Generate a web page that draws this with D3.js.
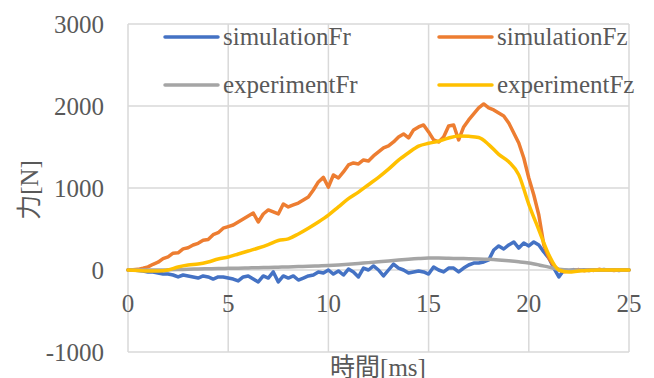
<!DOCTYPE html>
<html>
<head>
<meta charset="utf-8">
<script src="https://cdn.jsdelivr.net/npm/d3@7"></script>
<style>
  html, body { margin: 0; padding: 0; background: #fff; }
</style>
</head>
<body>
<svg id="chart" width="654" height="378"></svg>
<script>
// sampling steps (ms) of the two data sets
var simStep = 0.25,
    expStep = 0.5;

var xTicks = [0, 5, 10, 15, 20, 25];
var yTicks = [-1000, 0, 1000, 2000, 3000];

var seriesNames = ["simulationFr", "simulationFz", "experimentFr", "experimentFz"];
var seriesColors = ["#4472C4", "#ED7D31", "#A5A5A5", "#FFC000"];

// simulation, every 0.25 ms from 0 to 25
var simFr = [0, 0, -5, -12, -24, -24, -37, -49, -49, -61, -85, -61, -73, -85, -98, -73, -85, -110, -85, -85, -98,
  -110, -134, -85, -73, -110, -146, -73, -98, -24, -146, -73, -98, -73, -122, -98, -73, -61, -24, -37, 0,
  -49, -12, -61, 12, -24, -85, 24, 0, 49, 0, -73, 0, 73, 24, 0, -37, -24, -12, -24, -49,
  37, 0, -24, 24, 24, -24, 24, 61, 85, 85, 98, 122, 244, 293, 256, 305, 342, 268, 329, 293,
  342, 305, 220, 146, 24, -85, 0, -10, 5, -8, 4, -6, 3, -4, 6, -2, 3, -5, 2, 0];

var simFz = [0, 2, 8, 22, 38, 70, 95, 138, 160, 205, 210, 258, 272, 305, 325, 362, 372, 430, 455, 510, 530,
  549, 586, 622, 659, 695, 586, 683, 732, 708, 683, 805, 769, 793, 817, 854, 891, 976, 1074, 1130, 1010,
  1159, 1122, 1196, 1281, 1305, 1293, 1342, 1330, 1391, 1440, 1488, 1513, 1562, 1623, 1659, 1610, 1708, 1745, 1769, 1684,
  1586, 1562, 1623, 1757, 1769, 1586, 1745, 1830, 1903, 1976, 2025, 1976, 1952, 1915, 1879, 1793, 1671, 1549, 1366, 1122,
  915, 671, 305, 146, 49, 0, -20, -15, -5, 5, -8, 3, -5, 8, -3, 2, -6, 4, -2, 0];

// experiment, every 0.5 ms from 0 to 25
var expFr = [0, 0, 0, 0, 2, 5, 10, 12, 15, 18, 20, 22, 25, 28, 32, 35, 38, 42, 45, 50,
  55, 62, 70, 80, 90, 100, 110, 122, 132, 140, 145, 145, 143, 140, 138, 135, 130, 122, 112, 100,
  85, 62, 35, 10, 0, 0, 0, 0, 0, 0, 0];

var expFz = [0, -6, -12, -12, 0, 37, 61, 73, 98, 134, 159, 195, 232, 268, 310, 360, 380, 440, 510, 586,
  670, 770, 870, 950, 1040, 1130, 1230, 1340, 1430, 1510, 1545, 1570, 1610, 1635, 1630, 1615, 1530, 1410, 1320, 1160,
  800, 490, 185, 0, -24, -12, -5, 0, 0, 0, 0];

var FONT = "'Liberation Serif', 'Times New Roman', 'Noto Sans CJK JP', serif";

var svg = d3.select("#chart");
var plotL = 128, plotR = 629, plotT = 24, plotB = 352;

var x = d3.scaleLinear().domain([0, 25]).range([plotL, plotR]);
var y = d3.scaleLinear().domain([-1000, 3000]).range([plotB, plotT]);

function label(sel){
  return sel.style("font-family", FONT).style("font-size", "25px").style("fill", "#595959");
}

// grid
svg.append("g").selectAll("line").data(yTicks).enter().append("line")
  .attr("x1", plotL).attr("x2", plotR)
  .attr("y1", function(d){ return y(d); }).attr("y2", function(d){ return y(d); })
  .style("stroke", "#d9d9d9").style("stroke-width", 1.5);
svg.append("g").selectAll("line").data(xTicks).enter().append("line")
  .attr("x1", function(d){ return x(d); }).attr("x2", function(d){ return x(d); })
  .attr("y1", plotT).attr("y2", plotB)
  .style("stroke", "#d9d9d9").style("stroke-width", 1.5);

// tick labels
label(svg.append("g").selectAll("text").data(yTicks).enter().append("text")
  .attr("x", 104).attr("y", function(d){ return y(d); })
  .attr("dy", "0.35em").attr("text-anchor", "end")
  .text(function(d){ return d; }));
label(svg.append("g").selectAll("text").data(xTicks).enter().append("text")
  .attr("x", function(d){ return x(d); }).attr("y", 312)
  .attr("text-anchor", "middle")
  .text(function(d){ return d; }));

// axis titles
label(svg.append("text")
  .attr("transform", "translate(38,190) rotate(-90)")
  .attr("text-anchor", "middle")
  .text("力[N]"));
label(svg.append("text")
  .attr("x", 378).attr("y", 376)
  .attr("text-anchor", "middle")
  .text("時間[ms]"));

var simLine = d3.line()
  .x(function(d, i){ return x(i * simStep); })
  .y(function(d){ return y(d); });
var expLine = d3.line()
  .x(function(d, i){ return x(i * expStep); })
  .y(function(d){ return y(d); })
  .curve(d3.curveMonotoneX);

var plotData = [simFr, simFz, expFr, expFz];
plotData.forEach(function(vals, k){
  svg.append("path")
    .datum(vals)
    .attr("d", k < 2 ? simLine : expLine)
    .style("fill", "none")
    .style("stroke", seriesColors[k])
    .style("stroke-width", 3.5)
    .style("stroke-linejoin", "round")
    .style("stroke-linecap", "round");
});

// legend, 2 columns x 2 rows
var legCols = [165, 439], legRows = [37, 85];
seriesNames.forEach(function(name, k){
  var lx = legCols[k % 2], ly = legRows[Math.floor(k / 2)];
  svg.append("line")
    .attr("x1", lx).attr("x2", lx + 53)
    .attr("y1", ly).attr("y2", ly)
    .style("stroke", seriesColors[k]).style("stroke-width", 3.5)
    .style("stroke-linecap", "round");
  label(svg.append("text")
    .attr("x", lx + 58).attr("y", ly)
    .attr("dy", "0.33em")
    .text(name));
});
</script>
</body>
</html>
